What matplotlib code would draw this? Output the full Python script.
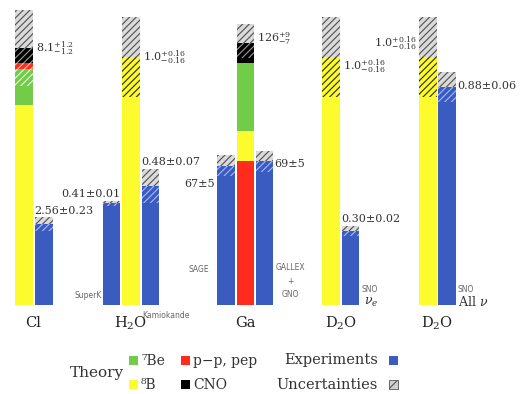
import matplotlib
matplotlib.use('Agg')
import matplotlib.pyplot as plt
from matplotlib.patches import Rectangle

# ---------------- data ----------------
categories = ['Cl', 'H$_2$O', 'Ga', 'D$_2$O', 'D$_2$O']

# theory stacks (bottom -> top)
cl_sources = ['8B', '7Be', 'pp-pep', 'CNO']
cl_theory = [6.3, 1.14, 0.2, 0.47]
cl_theory_err = [1.2, 1.2]
cl_theory_text = '8.1$^{+1.2}_{-1.2}$'

h2o_sources = ['8B']
h2o_theory = [1.0]
h2o_theory_err = [0.16, 0.16]
h2o_theory_text = '1.0$^{+0.16}_{-0.16}$'

ga_sources = ['pp-pep', '8B', '7Be', 'CNO']
ga_theory = [69.3, 14.2, 33.0, 9.4]
ga_theory_err = [7, 9]
ga_theory_text = '126$^{+9}_{-7}$'

d2o_sources = ['8B']
d2o_theory = [1.0]
d2o_theory_err = [0.16, 0.16]
d2o_theory_text = '1.0$^{+0.16}_{-0.16}$'

# experiments
cl_exp = [2.56]
cl_exp_err = [0.23]
h2o_exp_names = ['SuperK', 'Kamiokande']
h2o_exp = [0.41, 0.48]
h2o_exp_err = [0.01, 0.07]
ga_exp_names = ['SAGE', 'GALLEX\n+\nGNO']
ga_exp = [67, 69]
ga_exp_err = [5, 5]
sno_names = ['SNO', 'SNO']
sno_sub = [r'$\nu_e$', r'All $\nu$']
sno_exp = [0.30, 0.88]
sno_exp_err = [0.02, 0.06]

# legend
legend_theory = ['⁷Be', 'p−p, pep', '⁸B', 'CNO']
legend_theory_keys = ['7Be', 'pp-pep', '8B', 'CNO']

# ---------------- style ----------------
COL = {'8B': '#fbfb2e', '7Be': '#72cc48', 'pp-pep': '#ff2b1c', 'CNO': '#000000'}
HCOL = {'8B': '#2a2808', '7Be': '#e8ffe0', 'pp-pep': '#ffc0b0', 'CNO': '#9a9a9a'}
BLUE = '#3a5cc0'
BLUE_H = '#aab8ff'
GRAY_F = '#dadada'
GRAY_H = '#505050'
HATCH = '/////'
plt.rcParams['hatch.linewidth'] = 0.8
plt.rcParams['font.family'] = ['DejaVu Serif']
plt.rcParams['mathtext.fontset'] = 'dejavuserif'
TXT = '#333333'

W, H = 522, 394
BASE = 305
BW = 0.9
fig = plt.figure(figsize=(W / 100, H / 100), dpi=100)


def make_ax(c0, pitch, n, scale):
    left = (c0 - pitch / 2) / W
    ax = fig.add_axes([left, 1 - BASE / H, n * pitch / W, BASE / H])
    ax.set_xlim(-0.5, n - 0.5)
    ax.set_ylim(0, BASE / scale)
    ax.axis('off')
    return ax


def theory_bar(ax, x, sources, vals, err):
    b = 0
    for s, v in zip(sources, vals):
        ax.bar(x, v, bottom=b, width=BW, color=COL[s], linewidth=0)
        b += v
    total = b
    lo, hi = total - err[0], total + err[1]
    ax.bar(x, hi - total, bottom=total, width=BW, color=GRAY_F,
           edgecolor=GRAY_H, hatch=HATCH, linewidth=0)
    b = 0
    for s, v in zip(sources, vals):
        s_lo, s_hi = max(b, lo), min(b + v, total)
        if s_hi > s_lo:
            ax.bar(x, s_hi - s_lo, bottom=s_lo, width=BW, fill=False,
                   edgecolor=HCOL[s], hatch=HATCH, linewidth=0)
        b += v
    return total


def exp_bar(ax, x, v, e):
    ax.bar(x, v - e, width=BW, color=BLUE, linewidth=0)
    ax.bar(x, e, bottom=v - e, width=BW, color=BLUE, edgecolor=BLUE_H,
           hatch=HATCH, linewidth=0)
    ax.bar(x, e, bottom=v, width=BW, color=GRAY_F, edgecolor=GRAY_H,
           hatch=HATCH, linewidth=0)


def label(ax, x, y, s, dx=0, dy=0, ha='left', va='center', size=8, **kw):
    ax.annotate(s, (x, y), xytext=(dx, dy), textcoords='offset pixels',
                ha=ha, va=va, fontsize=size, color=TXT, annotation_clip=False, **kw)


def cat_label(ax, s):
    ax.text(0.5, -18 / BASE, s, transform=ax.transAxes, ha='center',
            va='center', fontsize=10.5, color='#222222')


def small(ax, x, y, s, dx=0, dy=0, ha='left', va='center'):
    ax.annotate(s, (x, y), xytext=(dx, dy), textcoords='offset pixels',
                ha=ha, va=va, fontsize=5.5, color='#666666', family='DejaVu Sans',
                annotation_clip=False, linespacing=1.6)


# ---- Cl ----
ax = make_ax(23.5, 20, 2, 31.7)
t = theory_bar(ax, 0, cl_sources, cl_theory, cl_theory_err)
label(ax, 0.5, t, cl_theory_text, dx=2)
exp_bar(ax, 1, cl_exp[0], cl_exp_err[0])
label(ax, 1 - BW / 2, cl_exp[0] + cl_exp_err[0], '%.2f±%.2f' % (cl_exp[0], cl_exp_err[0]),
      va='bottom', dy=1)
cat_label(ax, categories[0])

# ---- H2O ----
ax = make_ax(111.5, 19.5, 3, 248)
exp_bar(ax, 0, h2o_exp[0], h2o_exp_err[0])
t = theory_bar(ax, 1, h2o_sources, h2o_theory, h2o_theory_err)
exp_bar(ax, 2, h2o_exp[1], h2o_exp_err[1])
label(ax, 1 + BW / 2, t, h2o_theory_text, dx=3)
label(ax, 0 + BW / 2, h2o_exp[0] + h2o_exp_err[0], '%.2f±%.2f' % (h2o_exp[0], h2o_exp_err[0]),
      ha='right', va='bottom', dy=2)
label(ax, 2 - BW / 2, h2o_exp[1] + h2o_exp_err[1], '%.2f±%.2f' % (h2o_exp[1], h2o_exp_err[1]),
      va='bottom', dy=2)
small(ax, -0.5, 0, h2o_exp_names[0], ha='right', dy=10)
small(ax, 2 - BW / 2, 0, h2o_exp_names[1], ha='left', dy=-11, dx=1)
cat_label(ax, categories[1])

# ---- Ga ----
ax = make_ax(226, 19.3, 3, 2.08)
exp_bar(ax, 0, ga_exp[0], ga_exp_err[0])
t = theory_bar(ax, 1, ga_sources, ga_theory, ga_theory_err)
exp_bar(ax, 2, ga_exp[1], ga_exp_err[1])
label(ax, 1 + BW / 2, t, ga_theory_text, dx=3, dy=5)
label(ax, 0 - BW / 2, ga_exp[0], '%d±%d' % (ga_exp[0], ga_exp_err[0]), ha='right', dx=-2, dy=-18)
label(ax, 2 + BW / 2, ga_exp[1], '%d±%d' % (ga_exp[1], ga_exp_err[1]), dx=1, dy=-3)
small(ax, 0 - BW / 2, 0, ga_exp_names[0], ha='right', dx=-8, dy=35)
small(ax, 2 + BW / 2, 0, ga_exp_names[1], ha='center', dx=17, dy=24)
cat_label(ax, categories[2])

# ---- D2O (nu_e) ----
ax = make_ax(331, 19.5, 2, 248)
t = theory_bar(ax, 0, d2o_sources, d2o_theory, d2o_theory_err)
exp_bar(ax, 1, sno_exp[0], sno_exp_err[0])
label(ax, 0 + BW / 2, t, d2o_theory_text, dx=3, dy=-9)
label(ax, 1 - BW / 2, sno_exp[0] + sno_exp_err[0], '%.2f±%.2f' % (sno_exp[0], sno_exp_err[0]),
      va='bottom', dy=2)
small(ax, 1 + BW / 2, 0, sno_names[0], dx=2, dy=16)
label(ax, 1 + BW / 2, 0, sno_sub[0], dx=5, dy=3, size=9)
cat_label(ax, categories[3])

# ---- D2O (all nu) ----
ax = make_ax(428, 19, 2, 248)
t = theory_bar(ax, 0, d2o_sources, d2o_theory, d2o_theory_err)
exp_bar(ax, 1, sno_exp[1], sno_exp_err[1])
label(ax, 0 - BW / 2, t, d2o_theory_text, ha='right', dx=-2, dy=14)
label(ax, 1 + BW / 2, sno_exp[1], '%.2f±%.2f' % (sno_exp[1], sno_exp_err[1]), dx=2, dy=1)
small(ax, 1 + BW / 2, 0, sno_names[1], dx=2, dy=16)
label(ax, 1 + BW / 2, 0, sno_sub[1], dx=2, dy=3, size=9)
cat_label(ax, categories[4])

# ---------------- legend ----------------
def ftext(x, y, s, ha='left', size=10, **kw):
    fig.text(x / W, 1 - y / H, s, ha=ha, va='center', fontsize=size, color='#333333', **kw)


def fsq(x, y, fc, hatch=None, ec='none', lw=0):
    fig.patches.append(Rectangle((x / W, 1 - (y + 9) / H), 9 / W, 9 / H,
                                 transform=fig.transFigure, facecolor=fc,
                                 edgecolor=ec, hatch=hatch, linewidth=lw))


ftext(70, 373, 'Theory', size=11)
pos = [(129, 356), (181, 356), (129, 380), (181, 380)]
for (x, y), k, s in zip(pos, legend_theory_keys, legend_theory):
    fsq(x, y, COL[k])
    ftext(x + 12, y + 5, s, size=10)
ftext(378, 360, 'Experiments', ha='right', size=10.5)
fsq(389, 356, BLUE)
ftext(378, 385, 'Uncertainties', ha='right', size=10.5)
fsq(389, 380, '#d0d0d0', hatch='///', ec='#555555', lw=0.6)

fig.savefig('out.png', dpi=100)
